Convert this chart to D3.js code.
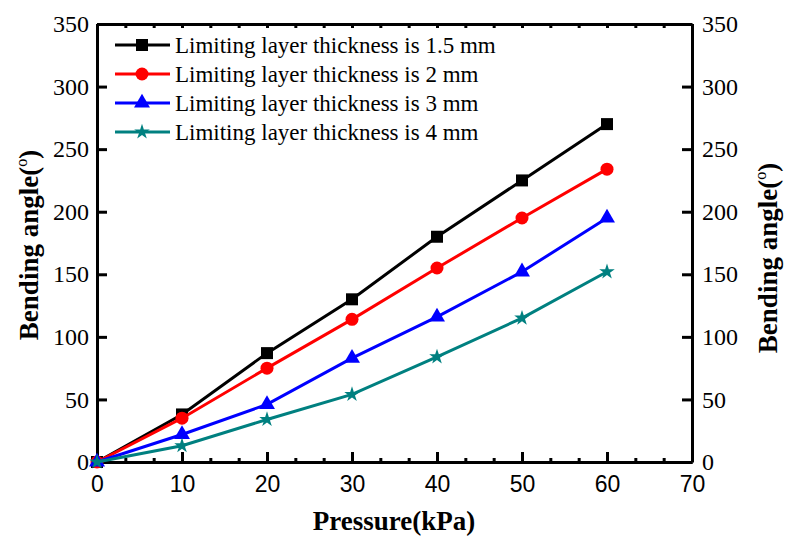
<!DOCTYPE html>
<html>
<head>
<meta charset="utf-8">
<script src="https://cdn.jsdelivr.net/npm/d3@7"></script>
<style>
  html, body { margin: 0; padding: 0; background: #fff; }
  svg { display: block; }
</style>
</head>
<body>
<div id="chart"></div>
<script>
/* ============================
   DATA
============================ */
const pressure = [0, 10, 20, 30, 40, 50, 60];
const t15 = [0, 38, 87, 130, 180, 225, 270];
const t2  = [0, 35, 75, 114, 155, 195, 234];
const t3  = [0, 22, 46, 83, 116, 152, 195];
const t4  = [0, 13, 34, 54, 84, 115, 152];

const seriesNames = [
  "Limiting layer thickness is 1.5 mm",
  "Limiting layer thickness is 2 mm",
  "Limiting layer thickness is 3 mm",
  "Limiting layer thickness is 4 mm"
];
const seriesColors = ["#000000", "#ff0000", "#0000ff", "#008080"];
const seriesShapes = ["square", "circle", "triangle", "star"];

const xTicks = [0, 10, 20, 30, 40, 50, 60, 70];
const yTicks = [0, 50, 100, 150, 200, 250, 300, 350];

/* ============================
   LAYOUT
============================ */
const W = 785, H = 540;
const mL = 97, mR = 692, mT = 24, mB = 462;
const SERIF = "'Liberation Serif', 'Times New Roman', serif";
const SANS = "'Liberation Sans', Arial, sans-serif";

const x = d3.scaleLinear().domain([0, 70]).range([mL, mR]);
const y = d3.scaleLinear().domain([0, 350]).range([mB, mT]);

const svg = d3.select("#chart").append("svg")
  .attr("width", W).attr("height", H);

// minor ticks: 2 between each major (every 10/3)
const minorX = d3.range(0, 21).filter(i => i % 3 !== 0).map(i => i * 10 / 3);

/* ============================
   AXES
============================ */
// bottom
const axB = svg.append("g").attr("transform", `translate(0,${mB})`);
axB.call(d3.axisBottom(x).tickValues(xTicks).tickSizeInner(-10).tickSizeOuter(0).tickPadding(14).tickFormat(d3.format("d")));
axB.append("g").call(d3.axisBottom(x).tickValues(minorX).tickSizeInner(-4).tickSizeOuter(0).tickFormat(""));
// top
const axT = svg.append("g").attr("transform", `translate(0,${mT})`);
axT.call(d3.axisTop(x).tickValues(xTicks.concat(minorX)).tickSizeInner(-4).tickSizeOuter(0).tickFormat(""));
// left
const axL = svg.append("g").attr("transform", `translate(${mL},0)`);
axL.call(d3.axisLeft(y).tickValues(yTicks).tickSizeInner(-10).tickSizeOuter(0).tickPadding(8).tickFormat(d3.format("d")));
// right
const axR = svg.append("g").attr("transform", `translate(${mR},0)`);
axR.call(d3.axisRight(y).tickValues(yTicks).tickSizeInner(-10).tickSizeOuter(0).tickPadding(10).tickFormat(d3.format("d")));

svg.selectAll(".domain").attr("stroke", "#000").attr("stroke-width", 3);
svg.selectAll(".tick line").attr("stroke", "#000").attr("stroke-width", 3);
axB.selectAll("text").style("font-family", SANS).style("font-size", "23px").attr("fill", "#000");
axL.selectAll("text").style("font-family", SERIF).style("font-size", "24px").attr("fill", "#000");
axR.selectAll("text").style("font-family", SERIF).style("font-size", "24px").attr("fill", "#000");

/* ============================
   AXIS TITLES
============================ */
svg.append("text")
  .attr("x", 394).attr("y", 530)
  .attr("text-anchor", "middle")
  .attr("font-family", SERIF).attr("font-weight", "bold").attr("font-size", 27)
  .text("Pressure(kPa)");

function yTitle(cx, cy) {
  const t = svg.append("text")
    .attr("transform", `translate(${cx},${cy}) rotate(-90)`)
    .attr("text-anchor", "middle")
    .attr("font-family", SERIF).attr("font-weight", "bold").attr("font-size", 27);
  t.append("tspan").text("Bending angle(");
  t.append("tspan").attr("font-size", 16).attr("font-weight", "normal").attr("dy", -11).text("o");
  t.append("tspan").attr("dy", 11).text(")");
}
yTitle(38, 245);
yTitle(777, 258);

/* ============================
   SERIES
============================ */
const allSeries = [t15, t2, t3, t4];

function marker(g, shape, color, cx, cy) {
  if (shape === "square") {
    g.append("rect").attr("x", cx - 6).attr("y", cy - 6).attr("width", 12).attr("height", 12).attr("fill", color);
  } else if (shape === "circle") {
    g.append("circle").attr("cx", cx).attr("cy", cy).attr("r", 6.5).attr("fill", color);
  } else if (shape === "triangle") {
    g.append("path").attr("transform", `translate(${cx},${cy})`)
      .attr("d", d3.symbol(d3.symbolTriangle, 110)()).attr("fill", color);
  } else {
    g.append("path").attr("transform", `translate(${cx},${cy})`)
      .attr("d", d3.symbol(d3.symbolStar, 75)()).attr("fill", color);
  }
}

const line = d3.line().x((d, i) => x(pressure[i])).y(d => y(d));

allSeries.forEach((vals, s) => {
  const g = svg.append("g");
  g.append("path").datum(vals)
    .attr("d", line).attr("fill", "none")
    .attr("stroke", seriesColors[s]).attr("stroke-width", 3);
  vals.forEach((v, i) => marker(g, seriesShapes[s], seriesColors[s], x(pressure[i]), y(v)));
});

/* ============================
   LEGEND
============================ */
const legY = [45, 74, 103, 132];
seriesNames.forEach((name, s) => {
  const g = svg.append("g");
  g.append("line").attr("x1", 115).attr("x2", 170).attr("y1", legY[s]).attr("y2", legY[s])
    .attr("stroke", seriesColors[s]).attr("stroke-width", 3);
  marker(g, seriesShapes[s], seriesColors[s], 142, legY[s]);
  g.append("text").attr("x", 175).attr("y", legY[s] + 8)
    .attr("font-family", SERIF).attr("font-size", 23).attr("fill", "#000")
    .text(name);
});
</script>
</body>
</html>
